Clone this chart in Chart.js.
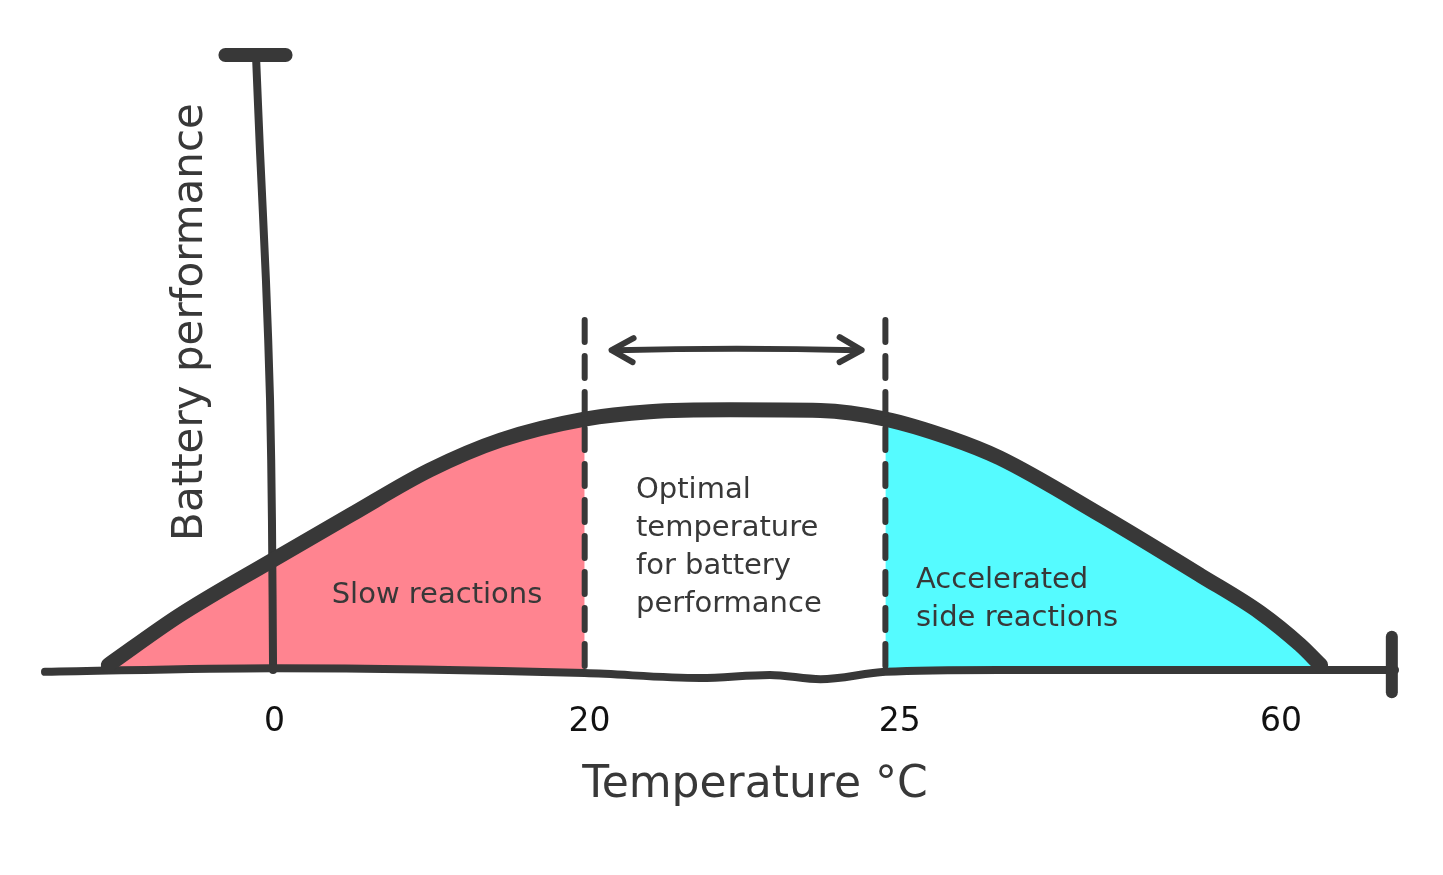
<!DOCTYPE html>
<html>
<head>
<meta charset="utf-8">
<script src="https://cdn.jsdelivr.net/npm/chart.js@4.4.1/dist/chart.umd.min.js"></script>
<style>
  html, body { margin: 0; padding: 0; background: #fff; }
  #wrap { width: 1443px; height: 875px; }
</style>
</head>
<body>
<div id="wrap"><canvas id="chart" width="1443" height="875"></canvas></div>
<script>
// x values are positions along the drawn axis, ticks carry the temperature labels
const TICK_POS = [0, 19.9, 39.5, 63.6];
const TICK_LABELS = ['0', '20', '25', '60'];
const ZONE_START = 19.6;   // 20 °C dashed line
const ZONE_END = 38.6;     // 25 °C dashed line

const CURVE_X = [-10.5, -6.0, -0.1, 4.8, 9.8, 14.3, 19.6, 23.7, 28.8, 34.5, 38.6, 42.7, 45.8, 52.2, 58.5, 62.3, 64.8, 66.1];
const CURVE_Y = [0.8, 8.9, 17.9, 25.2, 32.5, 37.4, 40.8, 42.0, 42.3, 42.2, 40.8, 37.7, 34.5, 25.2, 15.4, 9.3, 4.1, 0.8];

const BASE_X = [-14.5, -0.1, 19.6, 26.9, 31.3, 34.5, 38.6, 45.8, 70.8];
const BASE_Y = [-0.3, 0.3, -0.5, -1.3, -0.8, -1.5, -0.3, 0, 0];

const YAXIS_X = [-1.17, -0.92, -0.54, -0.28, -0.16, -0.09];
const YAXIS_Y = [100, 84.6, 63.4, 43.9, 24.4, 0];

const COLORS = {
    ink: '#383838',
    pink: '#FF8490',
    cyan: '#55FBFF'
};
const FONT = '"DejaVu Sans", sans-serif';

function toPoints(xs, ys) {
    return xs.map(function (x, i) { return { x: x, y: ys[i] }; });
}

const curve = toPoints(CURVE_X, CURVE_Y);
const slowPart = curve.filter(function (p) { return p.x <= ZONE_START; });
const sidePart = curve.filter(function (p) { return p.x >= ZONE_END; });

const sketchPlugin = {
    id: 'sketch',
    afterDatasetsDraw: function (chart) {
        const ctx = chart.ctx;
        const xs = chart.scales.x;
        const ys = chart.scales.y;
        ctx.save();
        ctx.strokeStyle = COLORS.ink;
        ctx.lineCap = 'round';
        ctx.lineJoin = 'round';

        // dashed zone borders
        ctx.lineWidth = 6;
        ctx.setLineDash([22, 14]);
        [ZONE_START, ZONE_END].forEach(function (v) {
            const px = xs.getPixelForValue(v);
            ctx.beginPath();
            ctx.moveTo(px, ys.getPixelForValue(56.9));
            ctx.lineTo(px, ys.getPixelForValue(0));
            ctx.stroke();
        });
        ctx.setLineDash([]);

        // double arrow
        const ay = ys.getPixelForValue(52);
        const ax1 = xs.getPixelForValue(21.3);
        const ax2 = xs.getPixelForValue(37.1);
        ctx.lineWidth = 6;
        ctx.beginPath();
        ctx.moveTo(ax1 + 4, ay);
        ctx.quadraticCurveTo((ax1 + ax2) / 2, ay - 3, ax2 - 4, ay);
        ctx.stroke();
        ctx.beginPath();
        ctx.moveTo(ax1 + 22, ay - 12);
        ctx.lineTo(ax1, ay);
        ctx.lineTo(ax1 + 21, ay + 12);
        ctx.stroke();
        ctx.beginPath();
        ctx.moveTo(ax2 - 22, ay - 13);
        ctx.lineTo(ax2, ay);
        ctx.lineTo(ax2 - 22, ay + 12);
        ctx.stroke();

        // axis end caps
        ctx.lineWidth = 14;
        ctx.beginPath();
        ctx.moveTo(xs.getPixelForValue(-3.1), ys.getPixelForValue(100));
        ctx.lineTo(xs.getPixelForValue(0.7), ys.getPixelForValue(100));
        ctx.stroke();
        ctx.lineWidth = 12;
        ctx.beginPath();
        ctx.moveTo(xs.getPixelForValue(70.6), ys.getPixelForValue(5.4));
        ctx.lineTo(xs.getPixelForValue(70.6), ys.getPixelForValue(-3.6));
        ctx.stroke();

        // tick labels
        ctx.fillStyle = '#111';
        ctx.font = '33px ' + FONT;
        ctx.textAlign = 'center';
        ctx.textBaseline = 'middle';
        TICK_POS.forEach(function (v, i) {
            ctx.fillText(TICK_LABELS[i], xs.getPixelForValue(v), 722);
        });

        // axis titles
        ctx.fillStyle = COLORS.ink;
        ctx.font = '44px ' + FONT;
        ctx.fillText('Temperature °C', 755, 786);
        ctx.save();
        ctx.translate(191, 322);
        ctx.rotate(-Math.PI / 2);
        ctx.font = '42px ' + FONT;
        ctx.fillText('Battery performance', 0, 0);
        ctx.restore();

        // zone notes
        ctx.font = '29px ' + FONT;
        ctx.fillText('Slow reactions', 437, 595);
        ctx.textAlign = 'left';
        ['Optimal', 'temperature', 'for battery', 'performance'].forEach(function (t, i) {
            ctx.fillText(t, 636, 490 + i * 38);
        });
        ['Accelerated', 'side reactions'].forEach(function (t, i) {
            ctx.fillText(t, 916, 580 + i * 38);
        });
        ctx.restore();
    }
};

// higher order is drawn first (underneath)
const data = {
    datasets: [{
        data: slowPart,
        order: 3,
        borderWidth: 0,
        borderColor: 'rgba(0,0,0,0)',
        pointRadius: 0,
        backgroundColor: COLORS.pink,
        fill: 'origin',
        cubicInterpolationMode: 'monotone'
    }, {
        data: sidePart,
        order: 3,
        borderWidth: 0,
        borderColor: 'rgba(0,0,0,0)',
        pointRadius: 0,
        backgroundColor: COLORS.cyan,
        fill: 'origin',
        cubicInterpolationMode: 'monotone'
    }, {
        data: toPoints(BASE_X, BASE_Y),
        order: 1,
        borderColor: COLORS.ink,
        borderWidth: 8,
        pointRadius: 0,
        fill: false,
        borderCapStyle: 'round',
        cubicInterpolationMode: 'monotone'
    }, {
        data: toPoints(YAXIS_X, YAXIS_Y),
        order: 1,
        borderColor: COLORS.ink,
        borderWidth: 8,
        pointRadius: 0,
        fill: false,
        borderCapStyle: 'round',
        tension: 0.3
    }, {
        data: curve,
        order: 0,
        borderColor: COLORS.ink,
        borderWidth: 15,
        pointRadius: 0,
        fill: false,
        borderCapStyle: 'round',
        borderJoinStyle: 'round',
        cubicInterpolationMode: 'monotone'
    }]
};

const options = {
    responsive: false,
    animation: false,
    devicePixelRatio: 1,
    layout: {
        padding: { left: 45, right: 48, top: 55, bottom: 205 }
    },
    scales: {
        x: { type: 'linear', min: -14.5, max: 70.8, display: false },
        y: { type: 'linear', min: 0, max: 100, display: false }
    },
    datasets: { line: { clip: false } },
    plugins: {
        legend: { display: false },
        tooltip: { enabled: false }
    }
};

new Chart(document.getElementById('chart'), {
    type: 'line',
    data: data,
    options: options,
    plugins: [sketchPlugin]
});
</script>
</body>
</html>
